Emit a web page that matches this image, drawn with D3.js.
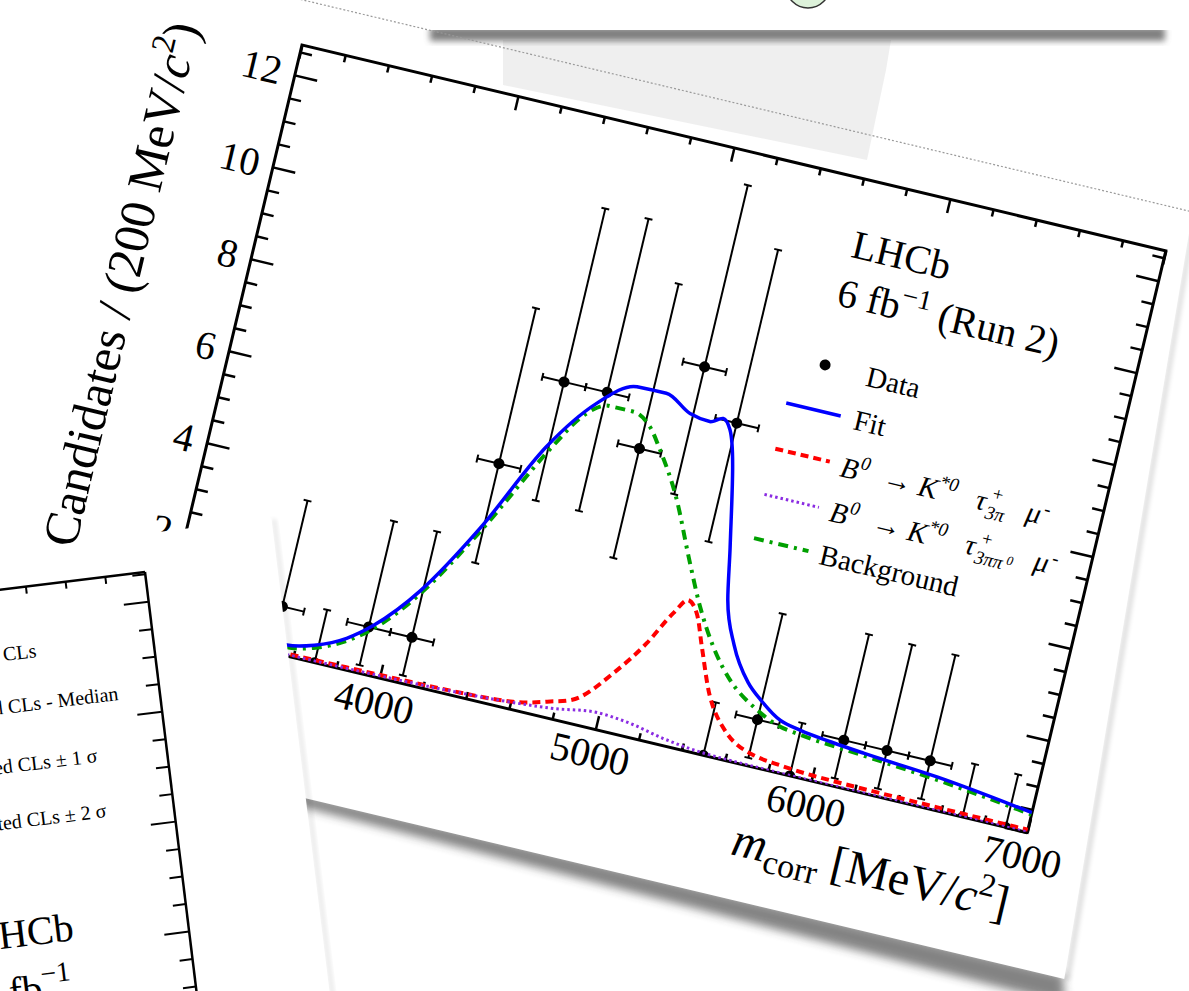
<!DOCTYPE html>
<html>
<head>
<meta charset="utf-8">
<script src="https://cdn.jsdelivr.net/npm/d3@7"></script>
<style>
  body { margin: 0; background: #fff; }
  svg { display: block; }
  text { font-family: "Liberation Serif", "Times New Roman", serif; fill: #000; }
</style>
</head>
<body>
<div id="vis"></div>
<script>
// 200 MeV/c^2 bins, counts
const binCenters = [3100, 3300, 3500, 3700, 3900, 4100, 4300, 4500, 4700, 4900,
                    5100, 5300, 5500, 5700, 5900, 6100, 6300, 6500, 6700, 6900];
const counts  = [0, 0, 1, 0, 1, 1, 5, 7, 7, 6, 8, 7, 0, 1, 0, 1, 1, 1, 0, 0];
const errLow  = [0, 0, 0.83, 0, 0.83, 0.83, 2.16, 2.58, 2.58, 2.38,
                 2.77, 2.58, 0, 0.83, 0, 0.83, 0.83, 0.83, 0, 0];
const errHigh = [1.15, 1.15, 2.30, 1.15, 2.30, 2.30, 3.38, 3.77, 3.77, 3.58,
                 3.95, 3.77, 1.15, 2.30, 1.15, 2.30, 2.30, 2.30, 1.15, 1.15];
const binHalf = 100;

// fit components (mass, candidates)
const fitMass  = [3000, 3200, 3400, 3560, 3680, 3815, 3920, 4090, 4285, 4490, 4665, 4825, 4960,
                  5085, 5180, 5236, 5277, 5400, 5445, 5520, 5620, 5700, 5800, 5900, 6050, 6200, 6550, 7000];
const fitVal   = [0.30, 0.25, 0.22, 0.23, 0.36, 0.66, 1.06, 2.01, 3.58, 5.58, 6.72, 7.26, 7.27,
                  6.97, 6.90, 7.03, 6.83, 4.42, 3.32, 2.42, 1.72, 1.40, 1.10, 0.99, 0.90, 0.83, 0.70, 0.43];
const sigMass  = [3000, 4000, 4385, 4610, 4760, 4900, 5020, 5135, 5220, 5272, 5323, 5380, 5468,
                  5580, 5720, 5850, 6000, 6500, 7000];
const sigVal   = [0.04, 0.07, 0.10, 0.17, 0.34, 0.60, 1.25, 2.03, 2.78, 3.12, 2.89, 2.23, 1.24,
                  0.57, 0.25, 0.17, 0.12, 0.08, 0.06];
const sig2Mass = [3000, 4000, 4400, 4600, 4795, 4990, 5145, 5307, 5490, 5700, 6000, 7000];
const sig2Val  = [0.02, 0.05, 0.10, 0.15, 0.23, 0.36, 0.30, 0.15, 0.05, 0.02, 0.01, 0.01];
const bkgMass  = [3000, 3560, 3680, 3815, 3920, 4090, 4285, 4517, 4606, 4725, 4833, 4923, 4992,
                  5103, 5241, 5331, 5431, 5539, 5687, 5803, 5900, 6200, 6550, 7000];
const bkgVal   = [0.25, 0.18, 0.30, 0.60, 0.98, 1.93, 3.48, 5.62, 6.32, 6.73, 6.73, 6.50, 6.07,
                  5.25, 3.89, 3.04, 2.28, 1.68, 1.20, 0.97, 0.90, 0.78, 0.64, 0.39];

const xMajor = [3000, 4000, 5000, 6000, 7000];
const xMinor = d3.range(3000, 7001, 200).filter(v => v % 1000 !== 0);
const yMajor = [0, 2, 4, 6, 8, 10, 12];
const yMinor = d3.range(0.5, 12.6, 0.5).filter(v => v % 2 !== 0);

const legendNames = ["Data", "Fit", "sig3pi", "sig3pipi0", "Background"];

const W = 888, H = 598;
const frameOrigin = [302, 45];
const frameAngle = 13.4;

const x = d3.scaleLinear().domain([3000, 7000]).range([0, W]);
const y = d3.scaleLinear().domain([0, 12.65]).range([H, 0]);

const svg = d3.select("#vis").append("svg")
    .attr("width", 1189)
    .attr("height", 991);

const defs = svg.append("defs");
function blur(id, sd) {
  defs.append("filter").attr("id", id)
      .attr("x", "-30%").attr("y", "-30%").attr("width", "160%").attr("height", "160%")
    .append("feGaussianBlur").attr("stdDeviation", sd);
}
blur("blur5", 5);
blur("blur3", 3);
blur("blur2", 2);
defs.append("clipPath").attr("id", "frameClip")
  .append("rect").attr("width", W).attr("height", H);

svg.append("rect").attr("width", 1189).attr("height", 991).attr("fill", "#fff");

// ---- main sheet (rotated) ----
const sheet = svg.append("g")
    .attr("transform", `translate(${frameOrigin}) rotate(${frameAngle})`);

sheet.append("path")
    .attr("d", "M170,728 L956,728 L964,756 L170,741 Z")
    .attr("fill", "#333").attr("opacity", 0.6)
    .attr("filter", "url(#blur5)");
sheet.append("path")
    .attr("d", "M905,-44 L958,732 L964,732 L910,-44 Z")
    .attr("fill", "#000").attr("opacity", 0.12)
    .attr("filter", "url(#blur2)");
sheet.append("path")
    .attr("d", "M-420,-44 L905,-44 L958,732 L-420,732 Z")
    .attr("fill", "#fff");

const chart = sheet.append("g");

function styleAxis(g) {
  g.select(".domain").remove();
  g.selectAll(".tick line").attr("stroke", "#000").attr("stroke-width", 2.5);
  g.attr("font-family", "Liberation Serif").attr("font-size", 40);
  g.selectAll("text").attr("fill", "#000");
}

chart.append("g").attr("transform", `translate(0,${H})`)
    .call(d3.axisBottom(x).tickValues(xMajor).tickSize(-14).tickPadding(10).tickFormat(d3.format("d")))
    .call(styleAxis);
chart.append("g").attr("transform", `translate(0,${H})`)
    .call(d3.axisBottom(x).tickValues(xMinor).tickSize(-7).tickFormat(""))
    .call(styleAxis);
chart.append("g")
    .call(d3.axisTop(x).tickValues(xMajor).tickSize(-14).tickFormat(""))
    .call(styleAxis);
chart.append("g")
    .call(d3.axisTop(x).tickValues(xMinor).tickSize(-7).tickFormat(""))
    .call(styleAxis);
chart.append("g")
    .call(d3.axisLeft(y).tickValues(yMajor).tickSize(-23).tickPadding(14).tickFormat(d3.format("d")))
    .call(styleAxis);
chart.append("g")
    .call(d3.axisLeft(y).tickValues(yMinor).tickSize(-12).tickFormat(""))
    .call(styleAxis);
chart.append("g").attr("transform", `translate(${W},0)`)
    .call(d3.axisRight(y).tickValues(yMajor).tickSize(-23).tickFormat(""))
    .call(styleAxis);
chart.append("g").attr("transform", `translate(${W},0)`)
    .call(d3.axisRight(y).tickValues(yMinor).tickSize(-12).tickFormat(""))
    .call(styleAxis);

chart.append("rect")
    .attr("width", W).attr("height", H)
    .attr("fill", "none").attr("stroke", "#000").attr("stroke-width", 3);

// axis titles
const xTitle = chart.append("text")
    .attr("x", W - 2).attr("y", 688)
    .attr("text-anchor", "end").attr("font-size", 48);
xTitle.append("tspan").attr("font-style", "italic").text("m");
xTitle.append("tspan").attr("font-size", 34).attr("dy", 10).text("corr");
xTitle.append("tspan").attr("dy", -10).text(" [MeV/");
xTitle.append("tspan").attr("font-style", "italic").text("c");
xTitle.append("tspan").attr("font-size", 32).attr("dy", -19).text("2");
xTitle.append("tspan").attr("dy", 19).text("]");

const yTitle = chart.append("text")
    .attr("transform", "translate(-104,6) rotate(-90)")
    .attr("text-anchor", "end").attr("font-size", 50);
yTitle.append("tspan").text("Candidates / (200 MeV/");
yTitle.append("tspan").attr("font-style", "italic").text("c");
yTitle.append("tspan").attr("font-size", 33).attr("dy", -20).text("2");
yTitle.append("tspan").attr("dy", 20).text(")");

// data points with Poisson error bars
const data = binCenters.map((m, i) => ({ m, n: counts[i], lo: errLow[i], hi: errHigh[i] }));
const pts = chart.append("g").attr("clip-path", "url(#frameClip)")
    .attr("stroke", "#000").attr("stroke-width", 2);
const cap = 4;
data.forEach(d => {
  const cx = x(d.m), cy = y(d.n);
  pts.append("line").attr("x1", cx).attr("x2", cx).attr("y1", y(d.n - d.lo)).attr("y2", y(d.n + d.hi));
  pts.append("line").attr("x1", cx - cap).attr("x2", cx + cap).attr("y1", y(d.n + d.hi)).attr("y2", y(d.n + d.hi));
  if (d.lo > 0) {
    pts.append("line").attr("x1", cx - cap).attr("x2", cx + cap).attr("y1", y(d.n - d.lo)).attr("y2", y(d.n - d.lo));
  }
  pts.append("line").attr("x1", x(d.m - binHalf)).attr("x2", x(d.m + binHalf)).attr("y1", cy).attr("y2", cy);
  pts.append("line").attr("x1", x(d.m - binHalf)).attr("x2", x(d.m - binHalf)).attr("y1", cy - cap).attr("y2", cy + cap);
  pts.append("line").attr("x1", x(d.m + binHalf)).attr("x2", x(d.m + binHalf)).attr("y1", cy - cap).attr("y2", cy + cap);
  pts.append("circle").attr("cx", cx).attr("cy", cy).attr("r", 5.5).attr("fill", "#000").attr("stroke", "none");
});

// fit curves
const line = d3.line().x(d => x(d[0])).y(d => y(d[1])).curve(d3.curveMonotoneX);
const sigCurve  = { mass: sigMass,  val: sigVal,  color: "#ff0000", width: 4,   dash: "8,5" };
const sig2Curve = { mass: sig2Mass, val: sig2Val, color: "#8a2be2", width: 3,   dash: "2.5,3" };
const bkgCurve  = { mass: bkgMass,  val: bkgVal,  color: "#00a000", width: 4,   dash: "10,6,3,6" };
const fitCurve  = { mass: fitMass,  val: fitVal,  color: "#0000ff", width: 3.5, dash: null };

const curveG = chart.append("g").attr("clip-path", "url(#frameClip)");
[sigCurve, sig2Curve, bkgCurve, fitCurve].forEach(c => {
  curveG.append("path")
      .attr("d", line(c.mass.map((m, i) => [m, c.val[i]])))
      .attr("fill", "none")
      .attr("stroke", c.color)
      .attr("stroke-width", c.width)
      .attr("stroke-dasharray", c.dash);
});

// legend
const leg = chart.append("g");
leg.append("text").attr("x", 582).attr("y", 79).attr("font-size", 40).text("LHCb");
const lumi = leg.append("text").attr("x", 579).attr("y", 129).attr("font-size", 40);
lumi.append("tspan").text("6 fb");
lumi.append("tspan").attr("font-size", 28).attr("dy", -16).text("\u22121");
lumi.append("tspan").attr("dy", 16).text(" (Run 2)");

const rowY = [190, 236, 283, 330, 375];
leg.append("circle").attr("cx", 583).attr("cy", rowY[0]).attr("r", 5.5).attr("fill", "#000");
[fitCurve, sigCurve, sig2Curve, bkgCurve].forEach((c, i) => {
  leg.append("line")
      .attr("x1", 554).attr("x2", 610)
      .attr("y1", rowY[i + 1]).attr("y2", rowY[i + 1])
      .attr("stroke", c.color).attr("stroke-width", c.width)
      .attr("stroke-dasharray", c.dash);
});
leg.append("text").attr("x", 626).attr("y", rowY[0] + 11).attr("font-size", 29).text(legendNames[0]);
leg.append("text").attr("x", 624).attr("y", rowY[1] + 10).attr("font-size", 29).text(legendNames[1]);
leg.append("text").attr("x", 622).attr("y", rowY[4] + 10).attr("font-size", 29).text(legendNames[4]);

function decayLabel(x0, yb, withPi0) {
  const t = leg.append("text").attr("font-size", 29);
  const piece = (str, dx, dy, size, ital) => {
    const s = t.append("tspan").attr("x", x0 + dx).attr("y", yb + dy).text(str);
    if (size) s.attr("font-size", size);
    if (ital) s.attr("font-style", "italic");
  };
  piece("B", 0, 0, null, true);
  piece("0", 19, -12, 19, true);
  piece("\u2192", 44, 0, null, false);
  piece("K", 80, 0, null, true);
  piece("*0", 100, -12, 19, true);
  piece("\u03c4", 139, 0, null, true);
  piece("+", 154, -13, 19, false);
  if (withPi0) {
    piece("3\u03c0\u03c0", 151, 7, 19, true);
    piece("0", 183, 1, 13, true);
    piece("\u03bc", 210, 0, null, true);
    piece("-", 227, -10, 19, false);
  } else {
    piece("3\u03c0", 151, 7, 19, true);
    piece("\u03bc", 191, 0, null, true);
    piece("-", 208, -10, 19, false);
  }
}
decayLabel(622, rowY[2] + 12, false);
decayLabel(622, rowY[3] + 11, true);

// ---- tape, top sheet ----
svg.append("path")
    .attr("d", "M503,40 L891,40 L886,70 L867,160 L503,85 Z")
    .attr("fill", "#e4e4e4").attr("opacity", 0.6);
svg.append("rect")
    .attr("x", 430).attr("y", 27).attr("width", 735).attr("height", 14)
    .attr("fill", "#555").attr("opacity", 0.75)
    .attr("filter", "url(#blur3)");
svg.append("rect")
    .attr("x", 424).attr("y", -60).attr("width", 748).attr("height", 90)
    .attr("fill", "#fff");
svg.append("circle")
    .attr("cx", 808).attr("cy", -14).attr("r", 22)
    .attr("fill", "#ddf2da").attr("stroke", "#333").attr("stroke-width", 1.5);

// dotted edge of the main sheet
svg.append("g")
    .attr("transform", `translate(${frameOrigin}) rotate(${frameAngle})`)
  .append("line")
    .attr("x1", -420).attr("x2", 905).attr("y1", -44).attr("y2", -44)
    .attr("stroke", "#9a9a9a").attr("stroke-width", 1.2).attr("stroke-dasharray", "2,2");

// ---- second sheet (bottom left) ----
const other = svg.append("g").attr("transform", "translate(145,572) rotate(-7)");
other.append("path")
    .attr("d", "M132,-38 L137,-36 L137,640 L132,640 Z")
    .attr("fill", "#000").attr("opacity", 0.08).attr("filter", "url(#blur2)");
other.append("path")
    .attr("d", "M-600,-38 L132,-38 L132,640 L-600,640 Z")
    .attr("fill", "#fff");

const clsX = d3.scaleLinear().domain([0, 10]).range([-400, 0]);
const clsY = d3.scaleLinear().domain([0, 1]).range([583.9, 29.9]);
const clsXTicks = d3.range(0, 10);
const clsYTicks = d3.range(-1, 22).map(k => k * 0.05);

other.append("line").attr("x1", -420).attr("x2", 0).attr("y1", 0).attr("y2", 0)
    .attr("stroke", "#000").attr("stroke-width", 2.5);
other.append("line").attr("x1", 0).attr("x2", 0).attr("y1", 0).attr("y2", 640)
    .attr("stroke", "#000").attr("stroke-width", 2.5);
other.selectAll(".tx").data(clsXTicks).enter().append("line")
    .attr("x1", d => clsX(d)).attr("x2", d => clsX(d)).attr("y1", 0).attr("y2", 7)
    .attr("stroke", "#000").attr("stroke-width", 2);
other.selectAll(".ty").data(clsYTicks).enter().append("line")
    .attr("x1", 0).attr("x2", (d, i) => ((i - 1) % 4 === 0 ? -25 : -13))
    .attr("y1", d => clsY(d)).attr("y2", d => clsY(d))
    .attr("stroke", "#000").attr("stroke-width", 2);

const clsText = [
  { t: "Observed CLs", u: -117.6, v: 71.2, s: 20 },
  { t: "Expected CLs - Median", u: -41.4, v: 123.8, s: 20 },
  { t: "Expected CLs \u00b1 1 \u03c3", u: -69.8, v: 182.9, s: 20 },
  { t: "Expected CLs \u00b1 2 \u03c3", u: -67.6, v: 238.6, s: 20 },
  { t: "LHCb", u: -114.4, v: 356.7, s: 40 }
];
clsText.forEach(d => {
  other.append("text").attr("x", d.u).attr("y", d.v)
      .attr("text-anchor", "end").attr("font-size", d.s).text(d.t);
});
const fb = other.append("text").attr("x", -123).attr("y", 414)
    .attr("text-anchor", "end").attr("font-size", 40);
fb.append("tspan").text("9 fb");
fb.append("tspan").attr("font-size", 28).attr("dy", -18).text("\u22121");
</script>
</body>
</html>
